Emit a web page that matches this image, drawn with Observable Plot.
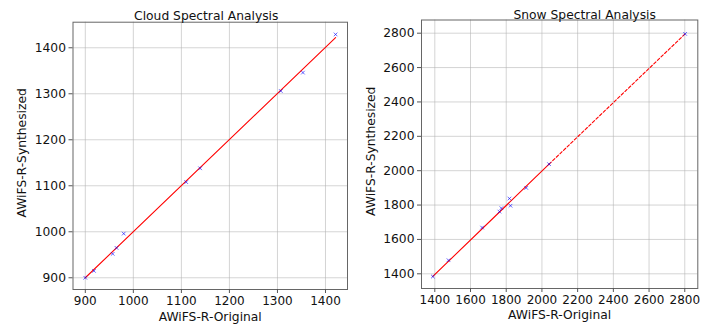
<!DOCTYPE html>
<html>
<head>
<meta charset="utf-8">
<script src="https://cdn.jsdelivr.net/npm/d3@7"></script>
<script src="https://cdn.jsdelivr.net/npm/@observablehq/plot@0.6"></script>
<style>
  html, body { margin: 0; padding: 0; background: #fff; }
  #chart { position: relative; width: 720px; height: 330px; overflow: hidden; font-family: "DejaVu Sans", sans-serif; }
  #chart svg { position: absolute; top: 0; }
</style>
</head>
<body>
<div id="chart"></div>
<script>
// ---- Cloud panel data ----
const cloudTitle = "Cloud Spectral Analysis";
const cloudOriginal    = [900, 918, 957, 965, 980, 1110, 1139, 1307, 1353, 1421];
const cloudSynthesized = [900, 915, 952, 965, 996, 1108, 1138, 1306, 1346, 1429];
const cloudFitX = [900, 1421];
const cloudFitY = [900, 1422];
const cloudXTicks = [900, 1000, 1100, 1200, 1300, 1400];
const cloudYTicks = [900, 1000, 1100, 1200, 1300, 1400];

// ---- Snow panel data ----
const snowTitle = "Snow Spectral Analysis";
const snowOriginal    = [1389, 1477, 1665, 1762, 1773, 1818, 1824, 1912, 2040, 2802];
const snowSynthesized = [1384, 1479, 1669, 1762, 1782, 1838, 1796, 1900, 2038, 2796];
const snowFitSolidX = [1389, 2040];
const snowFitSolidY = [1385, 2038];
const snowFitDashX = [2040, 2802];
const snowFitDashY = [2038, 2796];
const snowXTicks = [1400, 1600, 1800, 2000, 2200, 2400, 2600, 2800];
const snowYTicks = [1400, 1600, 1800, 2000, 2200, 2400, 2600, 2800];

const xLabel = "AWiFS-R-Original";
const yLabel = "AWiFS-R-Synthesized";

const zip = (xs, ys) => xs.map((x, i) => ({x, y: ys[i]}));
const fmt = d => String(d);

function panel(o) {
  const pts = zip(o.xs, o.ys);
  const marks = [
    Plot.gridX(o.xTicks, {stroke: "#b0b0b0", strokeOpacity: 0.55, strokeWidth: 1}),
    Plot.gridY(o.yTicks, {stroke: "#b0b0b0", strokeOpacity: 0.55, strokeWidth: 1}),
    ...o.lines.map(l => Plot.line(zip(l.x, l.y), {x: "x", y: "y", stroke: "red", strokeWidth: 1.1, strokeDasharray: l.dash})),
    Plot.dot(pts, {x: "x", y: "y", symbol: "times", r: 1.8, stroke: "blue", strokeWidth: 1, strokeOpacity: 0.6}),
    Plot.frame({stroke: "#666", strokeWidth: 1}),
    Plot.axisX(o.xTicks, {tickSize: 4, tickPadding: 3, stroke: "#555", fill: "#111", fontSize: 12, tickFormat: fmt, label: null}),
    Plot.axisY(o.yTicks, {tickSize: 4, tickPadding: 3, stroke: "#555", fill: "#111", fontSize: 12.3, tickFormat: fmt, label: null}),
    Plot.text([o.title], {text: d => d, frameAnchor: "top", dx: o.titleDx, dy: o.titleDy, fontSize: 12.3, fill: "#111"}),
    Plot.text([xLabel], {text: d => d, frameAnchor: "bottom", textAnchor: "middle", dy: o.xLabelDy, fontSize: 12.3, fill: "#111"}),
    Plot.text([yLabel], {text: d => d, frameAnchor: "left", textAnchor: "middle", dx: o.yLabelDx, dy: -3, rotate: -90, fontSize: 12.3, fill: "#111"})
  ];
  const svg = Plot.plot({
    width: 360, height: 330,
    marginLeft: o.mL, marginRight: o.mR, marginTop: o.mT, marginBottom: o.mB,
    x: {domain: o.xDomain},
    y: {domain: o.yDomain},
    style: {fontFamily: "DejaVu Sans", fontSize: "12px", background: "transparent", overflow: "visible"},
    marks
  });
  svg.style.left = o.left + "px";
  return svg;
}

const chart = document.getElementById("chart");
chart.append(panel({
  left: 0, mL: 72.5, mR: 13, mT: 21.7, mB: 41,
  xDomain: [874.4, 1445.8], yDomain: [874.5, 1455.6],
  xs: cloudOriginal, ys: cloudSynthesized,
  lines: [{x: cloudFitX, y: cloudFitY, dash: null}],
  xTicks: cloudXTicks, yTicks: cloudYTicks,
  title: cloudTitle, titleDx: -4, titleDy: -11, xLabelDy: 31, yLabelDx: -51
}));
chart.append(panel({
  left: 360, mL: 61, mR: 22.7, mT: 19.5, mB: 42,
  xDomain: [1325.5, 2873], yDomain: [1314.5, 2876.8],
  xs: snowOriginal, ys: snowSynthesized,
  lines: [{x: snowFitSolidX, y: snowFitSolidY, dash: null}, {x: snowFitDashX, y: snowFitDashY, dash: "3,2"}],
  xTicks: snowXTicks, yTicks: snowYTicks,
  title: snowTitle, titleDx: 25, titleDy: -10, xLabelDy: 30, yLabelDx: -50
}));
</script>
</body>
</html>
